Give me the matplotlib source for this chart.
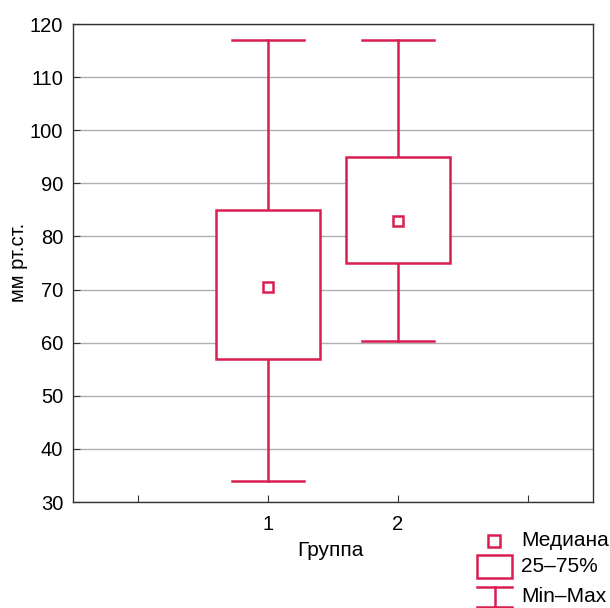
import matplotlib
matplotlib.use("Agg")
import matplotlib.pyplot as plt
from matplotlib.patches import Rectangle
from matplotlib.lines import Line2D

plt.rcParams['font.family'] = ['Liberation Sans', 'DejaVu Sans']

groups = [1, 2]
mins = [34, 60.3]
q1 = [57, 75]
medians = [70.4, 83]
q3 = [85, 95]
maxs = [117, 117]

yticks = [30, 40, 50, 60, 70, 80, 90, 100, 110, 120]
xticks = [0, 1, 2, 3]
xticklabels = ['', '1', '2', '']

color = '#da1f50'
grid_color = '#b0b0b0'

fig = plt.figure(figsize=(6.1, 6.08), dpi=100)
ax = fig.add_axes([0.1197, 0.1743, 0.8525, 0.7862])

box_w = 0.8
cap_w = 0.56
for g, lo, a, m, b, hi in zip(groups, mins, q1, medians, q3, maxs):
    ax.plot([g, g], [hi, b], color=color, lw=1.8, zorder=3)
    ax.plot([g, g], [lo, a], color=color, lw=1.8, zorder=3)
    ax.plot([g - cap_w / 2, g + cap_w / 2], [hi, hi], color=color, lw=1.8, zorder=3)
    ax.plot([g - cap_w / 2, g + cap_w / 2], [lo, lo], color=color, lw=1.8, zorder=3)
    ax.add_patch(Rectangle((g - box_w / 2, a), box_w, b - a, facecolor='white',
                           edgecolor=color, lw=1.8, zorder=3))
    ax.plot([g], [m], marker='s', ms=6.5, mfc='white', mec=color, mew=1.8, zorder=4)

ax.set_xlim(-0.5, 3.5)
ax.set_ylim(30, 120)
ax.set_yticks(yticks)
ax.set_xticks(xticks)
ax.set_xticklabels(xticklabels)
ax.yaxis.grid(True, color=grid_color, lw=1.0)
ax.set_axisbelow(True)
ax.tick_params(axis='both', direction='in', length=5, labelsize=14.5, color='#333333')
ax.tick_params(axis='x', pad=9)
ax.tick_params(axis='y', pad=7)
for s in ax.spines.values():
    s.set_color('#333333')
    s.set_linewidth(1.0)

fig.text(18 / 610, 1 - 262 / 608, 'мм рт.ст.', fontsize=14.5, rotation=90,
         ha='center', va='center')
fig.text(330 / 610, 1 - 550 / 608, 'Группа', fontsize=15, ha='center', va='center')

# Legend drawn in figure pixel coordinates
def fx(px):
    return px / 610

def fy(py):
    return 1 - py / 608

fig.add_artist(Line2D([fx(494)], [fy(541)], marker='s', ms=8, mfc='white', mec=color, mew=1.8))
fig.add_artist(Rectangle((fx(477), fy(578)), fx(512) - fx(477), fy(555) - fy(578),
                         facecolor='white', edgecolor=color, lw=1.8, transform=fig.transFigure))
fig.add_artist(Line2D([fx(477), fx(512)], [fy(587), fy(587)], color=color, lw=1.8))
fig.add_artist(Line2D([fx(494.5), fx(494.5)], [fy(587), fy(607)], color=color, lw=1.8))
fig.add_artist(Line2D([fx(477), fx(512)], [fy(607), fy(607)], color=color, lw=1.8))
fig.text(fx(521), fy(541), 'Медиана', fontsize=15, ha='left', va='center')
fig.text(fx(521), fy(566), '25–75%', fontsize=15, ha='left', va='center')
fig.text(fx(521), fy(596), 'Min–Max', fontsize=15, ha='left', va='center')

fig.savefig('out.png', dpi=100)
